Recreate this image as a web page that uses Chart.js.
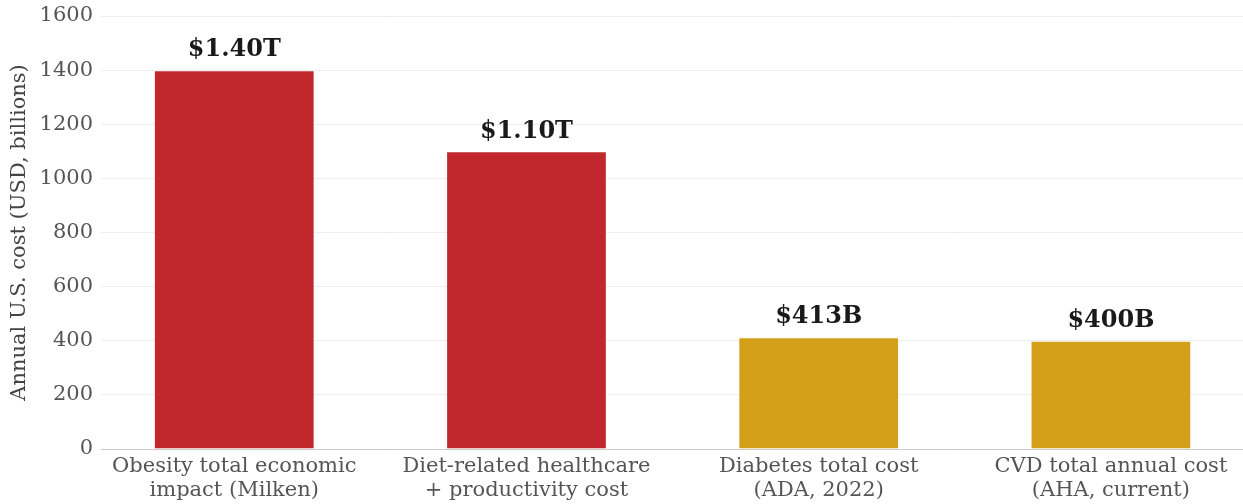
<!DOCTYPE html>
<html>
<head>
<meta charset="utf-8">
<script src="https://cdn.jsdelivr.net/npm/chart.js@4/dist/chart.umd.min.js"></script>
<style>
  html, body { margin: 0; padding: 0; background: #fff; }
  #wrap { width: 1243px; height: 504px; }
</style>
</head>
<body>
<div id="wrap"><canvas id="myChart"></canvas></div>
<script>
const categories = [
    ["Obesity total economic", "impact (Milken)"],
    ["Diet-related healthcare", "+ productivity cost"],
    ["Diabetes total cost", "(ADA, 2022)"],
    ["CVD total annual cost", "(AHA, current)"]
];
const costs = [1400, 1100, 413, 400];
const valueLabels = ["$1.40T", "$1.10T", "$413B", "$400B"];
const barColors = ["#C1272D", "#C1272D", "#D4A01A", "#D4A01A"];

const serif = "'DejaVu Serif', serif";

// draws the bold value text above each bar
const valueLabelPlugin = {
    id: "valueLabels",
    afterDatasetsDraw(chart) {
        const ctx = chart.ctx;
        const meta = chart.getDatasetMeta(0);
        ctx.save();
        ctx.font = "bold 24px " + serif;
        ctx.fillStyle = "#1a1a1a";
        ctx.textAlign = "center";
        ctx.textBaseline = "bottom";
        meta.data.forEach((bar, i) => {
            ctx.fillText(valueLabels[i], bar.x, bar.y - 8);
        });
        ctx.restore();
    }
};

const ctx = document.getElementById("myChart").getContext("2d");
new Chart(ctx, {
    type: "bar",
    data: {
        datasets: [{
            data: costs.map((v, i) => ({ x: i, y: v })),
            backgroundColor: barColors,
            borderColor: "rgba(255,255,255,0.35)",
            borderWidth: 1,
            barPercentage: 0.55,
            categoryPercentage: 1
        }]
    },
    options: {
        responsive: true,
        maintainAspectRatio: false,
        animation: false,
        layout: { padding: { top: 16, right: 0, left: 7, bottom: 0 } },
        plugins: {
            legend: { display: false },
            tooltip: { enabled: false }
        },
        scales: {
            x: {
                type: "linear",
                offset: false,
                min: -0.456,
                max: 3.452,
                afterBuildTicks(scale) {
                    scale.ticks = categories.map((c, i) => ({ value: i }));
                },
                ticks: {
                    autoSkip: false,
                    maxRotation: 0,
                    padding: 5,
                    color: "#555",
                    font: { family: serif, size: 21, lineHeight: 1.15 },
                    callback: (value) => categories[value]
                },
                grid: { display: false, drawTicks: false },
                border: { display: true, color: "#cccccc", width: 1 },
                afterFit(scale) { scale.height = 55; }
            },
            y: {
                min: 0,
                max: 1600,
                ticks: {
                    stepSize: 200,
                    color: "#555",
                    padding: 8,
                    font: { family: serif, size: 21 },
                    callback: (value) => String(value)
                },
                title: {
                    display: true,
                    text: "Annual U.S. cost (USD, billions)",
                    color: "#444",
                    padding: { top: 0, bottom: 4 },
                    font: { family: serif, size: 21 }
                },
                grid: { color: "#eeeeee", lineWidth: 1, drawTicks: false },
                border: { display: false },
                afterFit(scale) {
                    scale.width = 94;
                    scale.paddingTop = 0;
                    scale.paddingBottom = 0;
                }
            }
        }
    },
    plugins: [valueLabelPlugin]
});
</script>
</body>
</html>
